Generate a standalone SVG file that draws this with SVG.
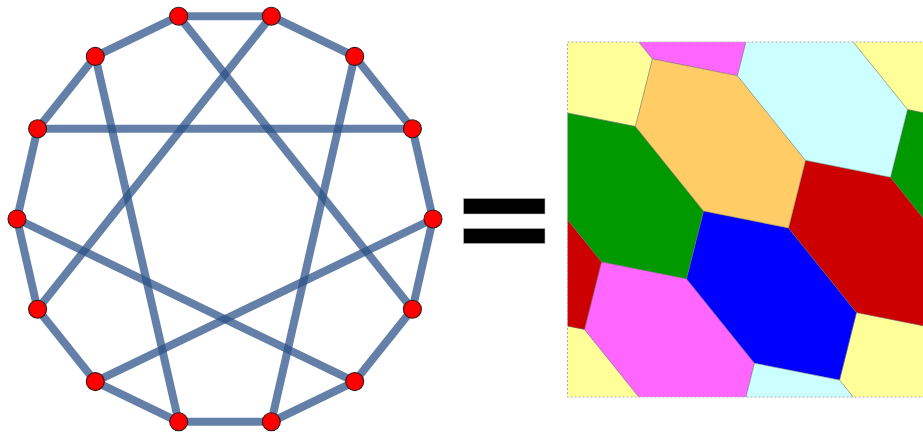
<svg xmlns="http://www.w3.org/2000/svg" xmlns:xlink="http://www.w3.org/1999/xlink" width="923" height="433" viewBox="0 0 923 433">
  <style>
    .edge { stroke: rgb(43,81,136); stroke-opacity: 0.73; stroke-width: 8; stroke-linecap: butt; fill: none; }
    .node { fill: #ff0000; stroke: #3a1a1a; stroke-width: 1.1; }
    .tile { stroke: #6a6a6a; stroke-opacity: 0.55; stroke-width: 0.8; }
    .yel { fill: #ffff99; } .mag { fill: #ff66ff; } .cya { fill: #ccffff; }
    .ora { fill: #ffcc66; } .red { fill: #cc0000; } .blu { fill: #0000ff; } .grn { fill: #009900; }
    .frame { fill: none; stroke: #aaaaaa; stroke-width: 1; stroke-dasharray: 2 2; }
    .bar { fill: #000000; stroke: #bbbbbb; stroke-width: 0.6; }
  </style>
  <defs>
    <path id="hex" d="M17,-67.62 L85,16.9 L68,84.52 L-17,67.62 L-85,-16.9 L-68,-84.52 Z"/>
    <clipPath id="box"><rect x="0" y="0" width="357" height="355"/></clipPath>
  </defs>

  <g id="connectors">
    <line class="edge" x1="178.7" y1="16.2" x2="271.3" y2="16.2"/>
    <line class="edge" x1="271.3" y1="16.2" x2="354.7" y2="56.4"/>
    <line class="edge" x1="354.7" y1="56.4" x2="412.4" y2="128.7"/>
    <line class="edge" x1="412.4" y1="128.7" x2="433" y2="219"/>
    <line class="edge" x1="433" y1="219" x2="412.4" y2="309.3"/>
    <line class="edge" x1="412.4" y1="309.3" x2="354.7" y2="381.6"/>
    <line class="edge" x1="354.7" y1="381.6" x2="271.3" y2="421.8"/>
    <line class="edge" x1="271.3" y1="421.8" x2="178.7" y2="421.8"/>
    <line class="edge" x1="178.7" y1="421.8" x2="95.3" y2="381.6"/>
    <line class="edge" x1="95.3" y1="381.6" x2="37.6" y2="309.3"/>
    <line class="edge" x1="37.6" y1="309.3" x2="17" y2="219"/>
    <line class="edge" x1="17" y1="219" x2="37.6" y2="128.7"/>
    <line class="edge" x1="37.6" y1="128.7" x2="95.3" y2="56.4"/>
    <line class="edge" x1="95.3" y1="56.4" x2="178.7" y2="16.2"/>
    <line class="edge" x1="178.7" y1="16.2" x2="412.4" y2="309.3"/>
    <line class="edge" x1="271.3" y1="16.2" x2="37.6" y2="309.3"/>
    <line class="edge" x1="95.3" y1="56.4" x2="178.7" y2="421.8"/>
    <line class="edge" x1="354.7" y1="56.4" x2="271.3" y2="421.8"/>
    <line class="edge" x1="37.6" y1="128.7" x2="412.4" y2="128.7"/>
    <line class="edge" x1="17" y1="219" x2="354.7" y2="381.6"/>
    <line class="edge" x1="433" y1="219" x2="95.3" y2="381.6"/>
  </g>

  <g id="n0"><circle class="node" cx="178.7" cy="16.2" r="9"/></g>
  <g id="n1"><circle class="node" cx="271.3" cy="16.2" r="9"/></g>
  <g id="n2"><circle class="node" cx="354.7" cy="56.4" r="9"/></g>
  <g id="n3"><circle class="node" cx="412.4" cy="128.7" r="9"/></g>
  <g id="n4"><circle class="node" cx="433" cy="219" r="9"/></g>
  <g id="n5"><circle class="node" cx="412.4" cy="309.3" r="9"/></g>
  <g id="n6"><circle class="node" cx="354.7" cy="381.6" r="9"/></g>
  <g id="n7"><circle class="node" cx="271.3" cy="421.8" r="9"/></g>
  <g id="n8"><circle class="node" cx="178.7" cy="421.8" r="9"/></g>
  <g id="n9"><circle class="node" cx="95.3" cy="381.6" r="9"/></g>
  <g id="n10"><circle class="node" cx="37.6" cy="309.3" r="9"/></g>
  <g id="n11"><circle class="node" cx="17" cy="219" r="9"/></g>
  <g id="n12"><circle class="node" cx="37.6" cy="128.7" r="9"/></g>
  <g id="n13"><circle class="node" cx="95.3" cy="56.4" r="9"/></g>

  <g id="equals">
    <rect class="bar" x="463.5" y="198.5" width="81.5" height="15.5"/>
    <rect class="bar" x="463.5" y="228.5" width="81.5" height="15"/>
  </g>

  <g id="tiling" transform="translate(567.5,42)">
    <g clip-path="url(#box)">
      <use xlink:href="#hex" class="tile yel" x="0" y="0"/>
      <use xlink:href="#hex" class="tile yel" x="357" y="0"/>
      <use xlink:href="#hex" class="tile yel" x="0" y="355"/>
      <use xlink:href="#hex" class="tile yel" x="357" y="355"/>
      <use xlink:href="#hex" class="tile mag" x="102" y="304.29"/>
      <use xlink:href="#hex" class="tile mag" x="102" y="-50.71"/>
      <use xlink:href="#hex" class="tile blu" x="204" y="253.57"/>
      <use xlink:href="#hex" class="tile red" x="306" y="202.86"/>
      <use xlink:href="#hex" class="tile red" x="-51" y="202.86"/>
      <use xlink:href="#hex" class="tile grn" x="51" y="152.14"/>
      <use xlink:href="#hex" class="tile grn" x="408" y="152.14"/>
      <use xlink:href="#hex" class="tile ora" x="153" y="101.43"/>
      <use xlink:href="#hex" class="tile cya" x="255" y="50.71"/>
      <use xlink:href="#hex" class="tile cya" x="255" y="405.71"/>
    </g>
    <rect class="frame" x="0" y="0" width="357" height="355"/>
  </g>
</svg>
